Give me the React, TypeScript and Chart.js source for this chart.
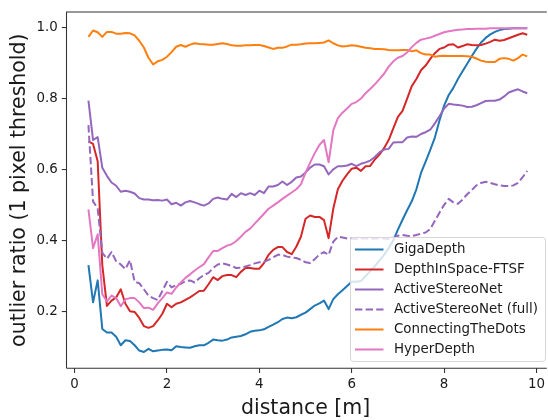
import React, { useEffect, useRef } from "react";
import { Chart, registerables } from "chart.js";

Chart.register(...registerables);

const distances = [
  0.3, 0.4, 0.5, 0.6, 0.7, 0.8, 0.9, 1.0, 1.1, 1.2, 1.3, 1.4, 1.5, 1.6, 1.7, 1.8, 1.9, 2.0,
  2.1, 2.2, 2.3, 2.4, 2.5, 2.6, 2.7, 2.8, 2.9, 3.0, 3.1, 3.2, 3.3, 3.4, 3.5, 3.6, 3.7, 3.8,
  3.9, 4.0, 4.1, 4.2, 4.3, 4.4, 4.5, 4.6, 4.7, 4.8, 4.9, 5.0, 5.1, 5.2, 5.3, 5.4, 5.5, 5.6,
  5.7, 5.8, 5.9, 6.0, 6.1, 6.2, 6.3, 6.4, 6.5, 6.6, 6.7, 6.8, 6.9, 7.0, 7.1, 7.2, 7.3, 7.4,
  7.5, 7.6, 7.7, 7.8, 7.9, 8.0, 8.1, 8.2, 8.3, 8.4, 8.5, 8.6, 8.7, 8.8, 8.9, 9.0, 9.1, 9.2,
  9.3, 9.4, 9.5, 9.6, 9.7, 9.8,
];

const gigaDepth = [
  0.33, 0.225, 0.287, 0.15, 0.14, 0.14, 0.128, 0.104, 0.118, 0.116, 0.104, 0.089, 0.085, 0.094, 0.087, 0.089, 0.091, 0.092,
  0.09, 0.101, 0.099, 0.098, 0.097, 0.101, 0.104, 0.104, 0.111, 0.12, 0.118, 0.117, 0.12, 0.126, 0.128, 0.13, 0.135, 0.142,
  0.145, 0.146, 0.149, 0.156, 0.162, 0.169, 0.178, 0.182, 0.18, 0.183, 0.19, 0.196, 0.206, 0.216, 0.222, 0.23, 0.206, 0.234,
  0.248, 0.259, 0.271, 0.283, 0.283, 0.285, 0.299, 0.313, 0.327, 0.343, 0.359, 0.378, 0.4, 0.43, 0.458, 0.485, 0.51, 0.544,
  0.59, 0.622, 0.655, 0.69, 0.738, 0.78, 0.81, 0.83, 0.855, 0.877, 0.898, 0.92, 0.94, 0.958, 0.971, 0.981, 0.988, 0.993,
  0.996, 0.997, 0.998, 0.998, 0.998, 0.998,
];

const depthInSpace = [
  0.679, 0.672, 0.623, 0.33, 0.215, 0.23, 0.239, 0.262, 0.221, 0.2, 0.198, 0.181, 0.158, 0.153, 0.158, 0.174, 0.193, 0.221,
  0.211, 0.221, 0.225, 0.232, 0.239, 0.248, 0.257, 0.258, 0.276, 0.296, 0.288, 0.299, 0.302, 0.302, 0.296, 0.311, 0.322, 0.322,
  0.32, 0.32, 0.336, 0.359, 0.373, 0.381, 0.381, 0.367, 0.361, 0.382, 0.41, 0.461, 0.47, 0.466, 0.466, 0.457, 0.406, 0.489,
  0.544, 0.568, 0.586, 0.602, 0.605, 0.596, 0.609, 0.61, 0.628, 0.642, 0.66, 0.683, 0.716, 0.748, 0.765, 0.8, 0.835, 0.855,
  0.88, 0.893, 0.912, 0.928, 0.94, 0.944, 0.952, 0.953, 0.944, 0.948, 0.953, 0.951, 0.95, 0.951, 0.955, 0.96, 0.966, 0.963,
  0.965, 0.97, 0.975, 0.98, 0.984, 0.98,
];

const activeStereoNet = [
  0.794, 0.683, 0.691, 0.605, 0.582, 0.563, 0.554, 0.537, 0.54, 0.537, 0.532, 0.519, 0.515, 0.515, 0.513, 0.514, 0.512, 0.515,
  0.502, 0.506, 0.498, 0.507, 0.511, 0.507, 0.502, 0.498, 0.504, 0.517, 0.521, 0.517, 0.515, 0.531, 0.522, 0.533, 0.528, 0.533,
  0.528, 0.54, 0.533, 0.552, 0.552, 0.556, 0.566, 0.556, 0.565, 0.577, 0.58, 0.591, 0.605, 0.614, 0.614, 0.609, 0.586, 0.6,
  0.609, 0.609, 0.611, 0.616, 0.609, 0.616, 0.62, 0.625, 0.635, 0.648, 0.656, 0.658, 0.676, 0.677, 0.677, 0.69, 0.693, 0.692,
  0.7, 0.705, 0.712, 0.73, 0.75, 0.772, 0.785, 0.783, 0.782, 0.78, 0.776, 0.777, 0.781, 0.787, 0.793, 0.794, 0.794, 0.797,
  0.806, 0.817, 0.822, 0.826, 0.82, 0.815,
];

const activeStereoNetFull = [
  0.725, 0.51, 0.49, 0.365, 0.348, 0.367, 0.341, 0.332, 0.319, 0.344, 0.283, 0.279, 0.262, 0.244, 0.237, 0.232, 0.257, 0.283,
  0.267, 0.274, 0.277, 0.285, 0.287, 0.281, 0.293, 0.302, 0.308, 0.322, 0.332, 0.335, 0.332, 0.328, 0.322, 0.323, 0.326, 0.33,
  0.335, 0.338, 0.339, 0.345, 0.352, 0.359, 0.359, 0.354, 0.352, 0.35, 0.345, 0.338, 0.336, 0.347, 0.36, 0.367, 0.359, 0.396,
  0.41, 0.408, 0.405, 0.405, 0.404, 0.405, 0.405, 0.404, 0.405, 0.406, 0.405, 0.404, 0.406, 0.413, 0.415, 0.413, 0.412, 0.415,
  0.419, 0.422, 0.432, 0.455, 0.478, 0.5, 0.517, 0.507, 0.503, 0.515, 0.53, 0.542, 0.555, 0.562, 0.565, 0.562, 0.558, 0.555,
  0.553, 0.553, 0.555, 0.562, 0.578, 0.596,
];

const connectingTheDots = [
  0.974, 0.992, 0.987, 0.974, 0.988, 0.988, 0.983, 0.983, 0.985, 0.984, 0.978, 0.963, 0.944, 0.915, 0.896, 0.905, 0.909, 0.918,
  0.931, 0.946, 0.951, 0.946, 0.952, 0.956, 0.954, 0.953, 0.952, 0.952, 0.954, 0.956, 0.954, 0.95, 0.949, 0.949, 0.95, 0.95,
  0.951, 0.951, 0.948, 0.944, 0.94, 0.943, 0.943, 0.947, 0.952, 0.952, 0.953, 0.955, 0.956, 0.956, 0.957, 0.958, 0.964, 0.956,
  0.95, 0.947, 0.948, 0.95, 0.949, 0.946, 0.943, 0.942, 0.94, 0.94, 0.939, 0.937, 0.936, 0.936, 0.937, 0.937, 0.933, 0.936,
  0.928, 0.924, 0.924, 0.918, 0.92, 0.921, 0.92, 0.92, 0.92, 0.92, 0.919, 0.918, 0.913, 0.907, 0.904, 0.903, 0.903, 0.912,
  0.914, 0.912, 0.907, 0.914, 0.924, 0.919,
];

const hyperDepth = [
  0.487, 0.378, 0.417, 0.248, 0.228, 0.244, 0.237, 0.214, 0.234, 0.237, 0.237, 0.225, 0.209, 0.21, 0.204, 0.222, 0.237, 0.253,
  0.249, 0.267, 0.281, 0.294, 0.304, 0.315, 0.324, 0.333, 0.352, 0.37, 0.37, 0.378, 0.385, 0.389, 0.398, 0.41, 0.424, 0.433,
  0.447, 0.461, 0.475, 0.489, 0.498, 0.507, 0.517, 0.526, 0.535, 0.544, 0.558, 0.591, 0.619, 0.646, 0.669, 0.683, 0.62, 0.71,
  0.745, 0.76, 0.772, 0.785, 0.79, 0.8, 0.815, 0.827, 0.84, 0.855, 0.87, 0.89, 0.905, 0.915, 0.92, 0.93, 0.945, 0.957,
  0.966, 0.969, 0.972, 0.977, 0.982, 0.987, 0.99, 0.992, 0.994, 0.995, 0.996, 0.996, 0.997, 0.997, 0.997, 0.998, 0.998, 0.998,
  0.998, 0.998, 0.998, 0.998, 0.998, 0.998,
];

const seriesNames = [
  "GigaDepth",
  "DepthInSpace-FTSF",
  "ActiveStereoNet",
  "ActiveStereoNet (full)",
  "ConnectingTheDots",
  "HyperDepth",
];
const seriesValues = [gigaDepth, depthInSpace, activeStereoNet, activeStereoNetFull, connectingTheDots, hyperDepth];
const seriesColors = ["#1f77b4", "#d62728", "#9467bd", "#9467bd", "#ff7f0e", "#e377c2"];
const seriesDashed = [false, false, false, true, false, false];

const xTicks = [0, 2, 4, 6, 8, 10];
const yTicks = [0.2, 0.4, 0.6, 0.8, 1.0];
const xLabel = "distance [m]";
const yLabel = "outlier ratio (1 pixel threshold)";

const FONT = "'DejaVu Sans', sans-serif";
const DASH = [7.4, 3.2];

const framePlugin = {
  id: "frame",
  afterDatasetsDraw(chart: any) {
    const { ctx, chartArea } = chart;
    ctx.save();
    ctx.strokeStyle = "#333333";
    ctx.lineWidth = 1.07;
    ctx.beginPath();
    ctx.moveTo(chartArea.left, chartArea.bottom);
    ctx.lineTo(chartArea.left, chartArea.top);
    ctx.lineTo(chartArea.right + 2, chartArea.top);
    ctx.moveTo(chartArea.left, chartArea.bottom);
    ctx.lineTo(chartArea.right + 2, chartArea.bottom);
    ctx.stroke();
    ctx.restore();
  },
};

const legendPlugin = {
  id: "mplLegend",
  afterDatasetsDraw(chart: any) {
    const { ctx } = chart;
    const bx = 350.5;
    const by = 237.5;
    const bw = 195;
    const bh = 124;
    const r = 3;
    ctx.save();
    ctx.beginPath();
    ctx.moveTo(bx + r, by);
    ctx.lineTo(bx + bw - r, by);
    ctx.arcTo(bx + bw, by, bx + bw, by + r, r);
    ctx.lineTo(bx + bw, by + bh - r);
    ctx.arcTo(bx + bw, by + bh, bx + bw - r, by + bh, r);
    ctx.lineTo(bx + r, by + bh);
    ctx.arcTo(bx, by + bh, bx, by + bh - r, r);
    ctx.lineTo(bx, by + r);
    ctx.arcTo(bx, by, bx + r, by, r);
    ctx.closePath();
    ctx.fillStyle = "rgba(255,255,255,0.8)";
    ctx.fill();
    ctx.strokeStyle = "#d6d6d6";
    ctx.lineWidth = 1;
    ctx.stroke();
    chart.data.datasets.forEach((ds: any, i: number) => {
      const y = 249.5 + i * 20;
      ctx.beginPath();
      ctx.setLineDash(ds.borderDash || []);
      ctx.strokeStyle = ds.borderColor;
      ctx.lineWidth = 2;
      ctx.moveTo(355, y);
      ctx.lineTo(383.5, y);
      ctx.stroke();
      ctx.setLineDash([]);
      ctx.fillStyle = "#1a1a1a";
      ctx.font = `13.4px ${FONT}`;
      ctx.textBaseline = "middle";
      ctx.textAlign = "left";
      ctx.fillText(ds.label, 394, y + 0.5);
    });
    ctx.restore();
  },
};

export default function App() {
  const ref = useRef<HTMLCanvasElement | null>(null);
  useEffect(() => {
    if (!ref.current) return;
    const datasets = seriesNames.map((name, i) => ({
      label: name,
      data: distances.map((d, k) => ({ x: d, y: seriesValues[i][k] })),
      borderColor: seriesColors[i],
      backgroundColor: seriesColors[i],
      borderWidth: 2,
      borderDash: seriesDashed[i] ? DASH : [],
      pointRadius: 0,
      tension: 0,
      fill: false,
      borderJoinStyle: "round" as const,
      order: seriesNames.length - i,
    }));
    const chart = new Chart(ref.current, {
      type: "line",
      data: { datasets },
      options: {
        animation: false,
        responsive: false,
        devicePixelRatio: 1,
        events: [],
        layout: { padding: { top: 6.5, right: 0, left: 0, bottom: 0 } },
        plugins: { legend: { display: false }, tooltip: { enabled: false } },
        scales: {
          x: {
            type: "linear",
            min: -0.175,
            max: 10.18,
            afterFit: (s: any) => {
              s.height = 51.7;
            },
            afterBuildTicks: (s: any) => {
              s.ticks = xTicks.map((v) => ({ value: v }));
            },
            grid: { drawOnChartArea: false, drawTicks: true, tickLength: 4.7, color: "#333333", lineWidth: 1.07 },
            border: { display: false },
            ticks: {
              color: "#1a1a1a",
              font: { family: FONT, size: 13.4 },
              padding: 3,
              maxRotation: 0,
              autoSkip: false,
              callback: (v: any) => String(v),
            },
            title: {
              display: true,
              text: xLabel,
              color: "#1a1a1a",
              font: { family: FONT, size: 20.5 },
              padding: { top: 0, bottom: -1 },
            },
          },
          y: {
            type: "linear",
            min: 0.039,
            max: 1.044,
            afterFit: (s: any) => {
              s.width = 66.5;
            },
            afterBuildTicks: (s: any) => {
              s.ticks = yTicks.map((v) => ({ value: v }));
            },
            grid: { drawOnChartArea: false, drawTicks: true, tickLength: 4.7, color: "#333333", lineWidth: 1.07 },
            border: { display: false },
            ticks: {
              color: "#1a1a1a",
              font: { family: FONT, size: 13.4 },
              padding: 4,
              autoSkip: false,
              callback: (v: any) => Number(v).toFixed(1),
            },
            title: {
              display: true,
              text: yLabel,
              color: "#1a1a1a",
              font: { family: FONT, size: 20.5 },
              padding: { top: 7, bottom: 0 },
            },
          },
        },
      },
      plugins: [framePlugin, legendPlugin],
    });
    return () => chart.destroy();
  }, []);
  return (
    <div style={{ position: "fixed", left: 0, top: 0, width: 548, height: 420, background: "#fff" }}>
      <canvas ref={ref} width={548} height={420} style={{ display: "block" }} />
    </div>
  );
}
